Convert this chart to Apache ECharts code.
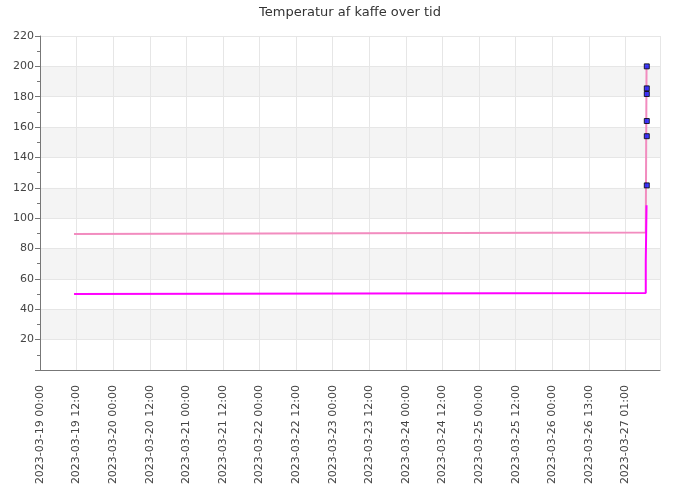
<!DOCTYPE html>
<html lang="da">

<head>
  <meta charset="UTF-8">
  <title>Temperatur af kaffe over tid</title>
  <script src="https://cdn.jsdelivr.net/npm/echarts@6/dist/echarts.min.js"></script>
  <style>
    html, body { margin: 0; padding: 0; background: #fff; }
    #chart { width: 700px; height: 500px; }
  </style>
</head>

<body>
  <div id="chart"></div>

  <script>
    // tick labels on the time axis (every 12 hours, local clock incl. DST)
    var tickLabels = [
      '2023-03-19 00:00', '2023-03-19 12:00', '2023-03-20 00:00', '2023-03-20 12:00',
      '2023-03-21 00:00', '2023-03-21 12:00', '2023-03-22 00:00', '2023-03-22 12:00',
      '2023-03-23 00:00', '2023-03-23 12:00', '2023-03-24 00:00', '2023-03-24 12:00',
      '2023-03-25 00:00', '2023-03-25 12:00', '2023-03-26 00:00', '2023-03-26 13:00',
      '2023-03-27 01:00'
    ]

    // pink series
    var pinkTimes = ['2023-03-19 11:10', '2023-03-27 06:40', '2023-03-27 06:55']
    var pinkValues = [89.5, 90.5, 200]

    // magenta series
    var magentaTimes = ['2023-03-19 11:10', '2023-03-27 06:40', '2023-03-27 06:40', '2023-03-27 06:55', '2023-03-27 06:55']
    var magentaValues = [50.1, 50.8, 71.7, 71.7, 108.5]

    // blue markers
    var markerTimes = ['2023-03-27 07:00', '2023-03-27 07:00', '2023-03-27 07:00', '2023-03-27 07:00', '2023-03-27 07:00', '2023-03-27 07:00']
    var markerValues = [200, 185.5, 181.8, 164, 154, 121.6]

    var HOUR = 3600 * 1000
    var axisStart = toMs('2023-03-19 00:00')
    var axisEnd = toMs('2023-03-27 11:20')

    function toMs(s) {
      return Date.parse(s.replace(' ', 'T') + ':00Z')
    }

    function pairs(times, values) {
      return times.map(function (t, i) { return [toMs(t), values[i]] })
    }

    var mCharts = echarts.init(document.getElementById('chart'))

    var option = {
      animation: false,
      textStyle: { fontFamily: 'DejaVu Sans' },
      title: {
        text: 'Temperatur af kaffe over tid',
        left: 'center',
        top: 1,
        textStyle: { fontSize: 13, fontWeight: 'normal', color: '#333' }
      },
      grid: { left: 40, right: 40, top: 36, bottom: 130 },
      xAxis: {
        type: 'value',
        min: axisStart,
        max: axisEnd,
        interval: 12 * HOUR,
        axisLine: { lineStyle: { color: '#777' } },
        axisTick: { show: false },
        axisLabel: {
          rotate: 90,
          margin: 15,
          fontSize: 11,
          color: '#444',
          showMaxLabel: false,
          formatter: function (v) {
            var i = Math.round((v - axisStart) / (12 * HOUR))
            return tickLabels[i] || ''
          }
        },
        splitLine: { show: true, lineStyle: { color: '#e6e6e6' } }
      },
      yAxis: {
        type: 'value',
        min: 0,
        max: 220,
        interval: 20,
        axisLine: { show: true, lineStyle: { color: '#777' } },
        axisTick: { show: true, length: 5, lineStyle: { color: '#777' } },
        minorTick: { show: true, splitNumber: 2, length: 3, lineStyle: { color: '#777' } },
        axisLabel: {
          fontSize: 11,
          color: '#444',
          margin: 6,
          formatter: function (v) { return v === 0 ? '' : v }
        },
        splitLine: { show: true, lineStyle: { color: '#e6e6e6' } },
        splitArea: { show: true, areaStyle: { color: ['#ffffff', '#f4f4f4'] } }
      },
      series: [
        {
          name: 'pink',
          type: 'line',
          data: pairs(pinkTimes, pinkValues),
          symbol: 'none',
          lineStyle: { color: '#f28cbf', width: 2 },
          z: 2
        },
        {
          name: 'magenta',
          type: 'line',
          data: pairs(magentaTimes, magentaValues),
          symbol: 'none',
          lineStyle: { color: '#ff00ff', width: 2 },
          z: 3
        },
        {
          name: 'markers',
          type: 'scatter',
          data: pairs(markerTimes, markerValues),
          symbol: 'rect',
          symbolSize: 5,
          itemStyle: { color: '#1010ff', borderColor: '#000', borderWidth: 1 },
          z: 4
        }
      ]
    }

    mCharts.setOption(option)
  </script>
</body>

</html>
